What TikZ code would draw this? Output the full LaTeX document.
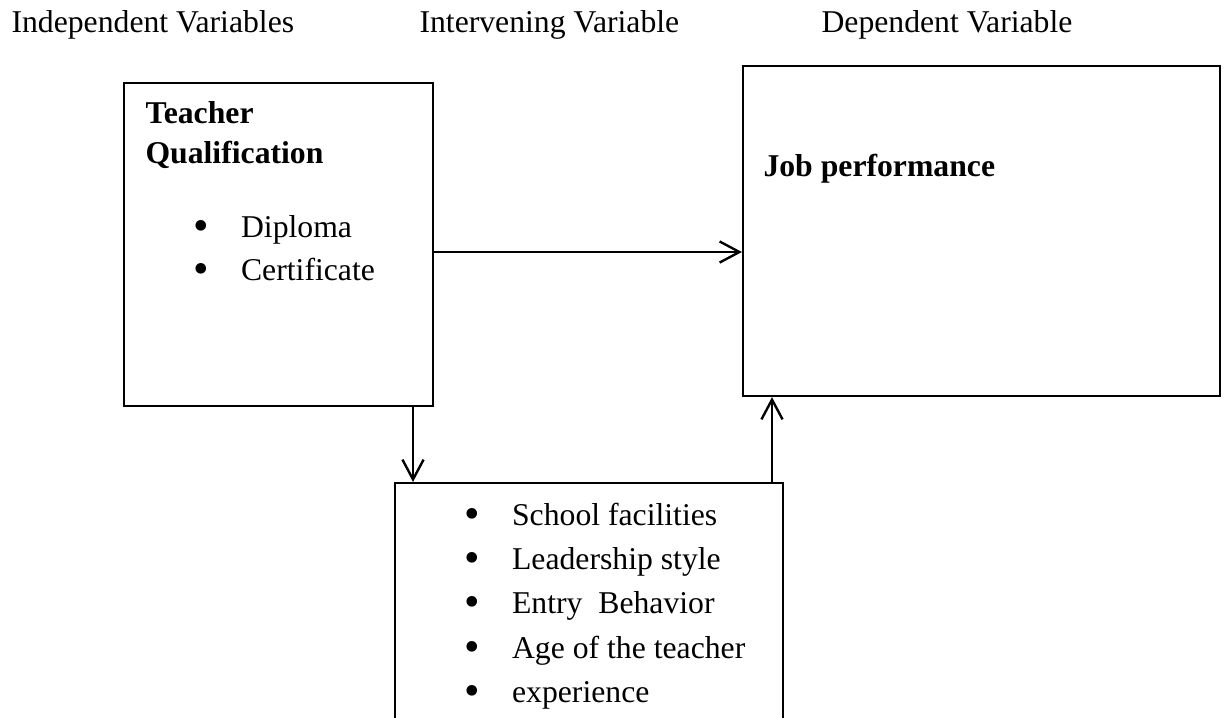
\documentclass[tikz,border=0pt]{standalone}
\usepackage{fontspec}
\setmainfont{Liberation Serif}
\usepackage{graphicx}
\usepackage{tikz}
\usetikzlibrary{fit,arrows.meta}
\newcommand{\bitem}[1]{\makebox[18pt][l]{\raisebox{-0.12em}{\scalebox{1.4}{\textbullet}}}#1}
\tikzset{
    every node/.style={inner sep=0mm, font=\fontsize{12}{14}\selectfont}
}
\tikzset{box/.style={draw, line width=.8pt},
    txt/.style={anchor=base west},
    arr/.style={-{Straight Barb[length=7.5pt,width=8pt]}, line width=.9pt}}

\begin{document}
\begin{tikzpicture}[x=0.3785pt, y=-0.3785pt]
        \useasboundingbox (0,0) rectangle (1225,717);
        \clip (0,0) rectangle (1225,717);
        \node (hind) [txt] at (11,32) {Independent Variables};
        \node (hint) [txt] at (419,32) {Intervening Variable};
        \node (hdep) [txt] at (821,32) {Dependent Variable};
        \node (qual) [box, fit={(124,83) (433,406)}] {};
        \node (job) [box, fit={(743,66) (1220,396)}] {};
        \node (fac) [box, fit={(395,483) (783,760)}] {};
        \node (q1) [txt] at (145,123) {\bfseries Teacher};
        \node (q2) [txt] at (145,163) {\bfseries Qualification};
        \node (q3) [txt] at (193,237) {\bitem{Diploma}};
        \node (q4) [txt] at (193,280) {\bitem{Certificate}};
        \node (j1) [txt] at (763,176) {\bfseries Job performance};
        \node (f1) [txt] at (464,525) {\bitem{School facilities}};
        \node (f2) [txt] at (464,569) {\bitem{Leadership style}};
        \node (f3) [txt] at (464,613) {\bitem{Entry\ \ Behavior}};
        \node (f4) [txt] at (464,658) {\bitem{Age of the teacher}};
        \node (f5) [txt] at (464,702) {\bitem{experience}};
        \draw[arr] (qual.east |- 0,252) -- (job.west |- 0,252);
        \draw[arr] (qual.south -| 413,0) -- (fac.north -| 413,0);
        \draw[arr] (fac.north -| 772,0) -- (job.south -| 772,0);
\end{tikzpicture}
\end{document}
